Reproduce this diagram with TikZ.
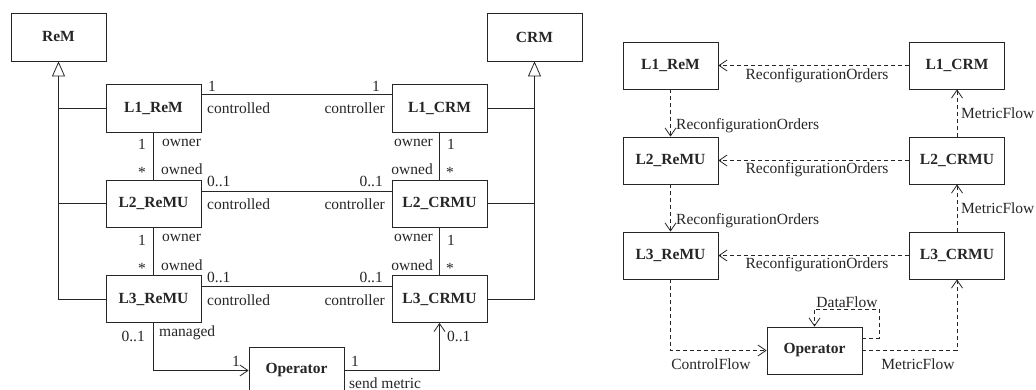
\documentclass[tikz,border=0pt]{standalone}
\usepackage{fontspec}
\setmainfont{Liberation Serif}
\usetikzlibrary{arrows.meta}
\definecolor{ink}{HTML}{262626}
\newcommand{\fsz}{\fontsize{15.5}{18}\selectfont}
\begin{document}
\begin{tikzpicture}[x=1pt,y=-1pt,
 box/.style={draw=ink, line width=0.8pt, minimum width=95pt, minimum height=47pt, inner sep=0pt, font=\fsz\bfseries, text=ink},
 lbl/.style={font=\fsz, text=ink, inner sep=0pt},
 conn/.style={draw=ink, line width=0.8pt},
 inh/.style={conn, -{Triangle[open, length=15pt, width=13pt, line width=0.8pt]}},
 nav/.style={conn, -{Straight Barb[length=8pt, width=11pt, line width=0.8pt]}},
 flow/.style={nav, dash pattern=on 4pt off 3pt},
]
\useasboundingbox (0,0) rectangle (1036,390);
\clip (0,0) rectangle (1036,390);
\fill[white] (0,0) rectangle (1036,390);

% ---------- left diagram ----------
\node[box, minimum height=48pt] (ReM) at (58.5,37) {ReM};
\node[box, minimum height=48pt] (CRM) at (534.5,37) {CRM};
\node[box, minimum height=48pt] (L1ReM) at (153.5,108) {L1\_ReM};
\node[box, minimum height=48pt] (L1CRM) at (439.5,108) {L1\_CRM};
\node[box] (L2ReMU) at (153.5,203.5) {L2\_ReMU};
\node[box] (L2CRMU) at (439.5,203.5) {L2\_CRMU};
\node[box] (L3ReMU) at (153.5,299) {L3\_ReMU};
\node[box] (L3CRMU) at (439.5,299) {L3\_CRMU};
\node[box] (Op) at (296.5,370.5) {Operator};

% inheritance
\draw[inh] (L3ReMU.west) -| (ReM.south);
\draw[conn] (L1ReM.west) -- (L1ReM.west -| ReM.south);
\draw[conn] (L2ReMU.west) -- (L2ReMU.west -| ReM.south);
\draw[inh] (L3CRMU.east) -| (CRM.south);
\draw[conn] (L1CRM.east) -- (L1CRM.east -| CRM.south);
\draw[conn] (L2CRMU.east) -- (L2CRMU.east -| CRM.south);

% associations
\draw[conn] ([yshift=-11pt]L1ReM.north east) -- ([yshift=-11pt]L1CRM.north west);
\draw[conn] ([yshift=-12pt]L2ReMU.north east) -- ([yshift=-12pt]L2CRMU.north west);
\draw[conn] ([yshift=-11.5pt]L3ReMU.north east) -- ([yshift=-11.5pt]L3CRMU.north west);
\draw[conn] (L1ReM.south) -- (L2ReMU.north);
\draw[conn] (L2ReMU.south) -- (L3ReMU.north);
\draw[conn] (L1CRM.south) -- (L2CRMU.north);
\draw[conn] (L2CRMU.south) -- (L3CRMU.north);
\draw[nav] (L3ReMU.south) |- (Op.west);
\draw[nav] (Op.east) -| (L3CRMU.south);

% labels
\node[lbl, anchor=base] (a1) at (212,92) {1};
\node[lbl, anchor=base] (a2) at (376,92) {1};
\node[lbl, anchor=base west] (a3) at (207,114) {controlled};
\node[lbl, anchor=base east] (a4) at (385,114) {controller};
\node[lbl, anchor=base] (b1) at (142,150) {1};
\node[lbl, anchor=base west] (b2) at (162,147) {owner};
\node[lbl, anchor=base] (b3) at (142,178) {*};
\node[lbl, anchor=base west] (b4) at (161,175) {owned};
\node[lbl, anchor=base east] (b5) at (433,147) {owner};
\node[lbl, anchor=base] (b6) at (451,150) {1};
\node[lbl, anchor=base east] (b7) at (433,175) {owned};
\node[lbl, anchor=base] (b8) at (450,178) {*};
\node[lbl, anchor=base west] (c1) at (207,187) {0..1};
\node[lbl, anchor=base east] (c2) at (383,187) {0..1};
\node[lbl, anchor=base west] (c3) at (207,210) {controlled};
\node[lbl, anchor=base east] (c4) at (385,210) {controller};
\node[lbl, anchor=base] (d1) at (142,245) {1};
\node[lbl, anchor=base west] (d2) at (162,242) {owner};
\node[lbl, anchor=base] (d3) at (142,273) {*};
\node[lbl, anchor=base west] (d4) at (161,270) {owned};
\node[lbl, anchor=base east] (d5) at (433,242) {owner};
\node[lbl, anchor=base] (d6) at (451,245) {1};
\node[lbl, anchor=base east] (d7) at (433,270) {owned};
\node[lbl, anchor=base] (d8) at (450,273) {*};
\node[lbl, anchor=base west] (e1) at (207,282) {0..1};
\node[lbl, anchor=base east] (e2) at (383,282) {0..1};
\node[lbl, anchor=base west] (e3) at (207,305) {controlled};
\node[lbl, anchor=base east] (e4) at (385,305) {controller};
\node[lbl, anchor=base east] (f1) at (145,341) {0..1};
\node[lbl, anchor=base west] (f2) at (159,336) {managed};
\node[lbl, anchor=base] (f3) at (236,366) {1};
\node[lbl, anchor=base] (f4) at (355,366) {1};
\node[lbl, anchor=base west] (f5) at (349,388) {send metric};
\node[lbl, anchor=base west] (f6) at (447,341) {0..1};

% ---------- right diagram ----------
\node[box] (R1ReM) at (670.5,65.5) {L1\_ReM};
\node[box] (R1CRM) at (957,65.5) {L1\_CRM};
\node[box] (R2ReMU) at (670.5,160.5) {L2\_ReMU};
\node[box] (R2CRMU) at (957,160.5) {L2\_CRMU};
\node[box] (R3ReMU) at (670.5,255.5) {L3\_ReMU};
\node[box] (R3CRMU) at (957,255.5) {L3\_CRMU};
\node[box] (ROp) at (814.5,350.5) {Operator};

\draw[flow] (R1CRM.west) -- (R1ReM.east);
\draw[flow] (R2CRMU.west) -- (R2ReMU.east);
\draw[flow] (R3CRMU.west) -- (R3ReMU.east);
\draw[flow] (R1ReM.south) -- (R2ReMU.north);
\draw[flow] (R2ReMU.south) -- (R3ReMU.north);
\draw[flow] (R2CRMU.north) -- (R1CRM.south);
\draw[flow] (R3CRMU.north) -- (R2CRMU.south);
\draw[flow] (R3ReMU.south) |- (ROp.west);
\draw[flow] (ROp.east) -| (R3CRMU.south);
\draw[flow] ([yshift=12.5pt]ROp.east) -- ++(17,0) -- ++(0,-29) -| (ROp.north);

\node[lbl, anchor=base] (g1) at (817,79.5) {ReconfigurationOrders};
\node[lbl, anchor=base] (g2) at (817,174) {ReconfigurationOrders};
\node[lbl, anchor=base] (g3) at (817,269) {ReconfigurationOrders};
\node[lbl, anchor=base west] (h1) at (676,130) {ReconfigurationOrders};
\node[lbl, anchor=base west] (h2) at (676,225) {ReconfigurationOrders};
\node[lbl, anchor=base west] (m1) at (961,119) {MetricFlow};
\node[lbl, anchor=base west] (m2) at (961,214) {MetricFlow};
\node[lbl, anchor=base] (df) at (847,307) {DataFlow};
\node[lbl, anchor=base] (cf) at (711,369) {ControlFlow};
\node[lbl, anchor=base] (mf) at (918,369) {MetricFlow};
\end{tikzpicture}
\end{document}
